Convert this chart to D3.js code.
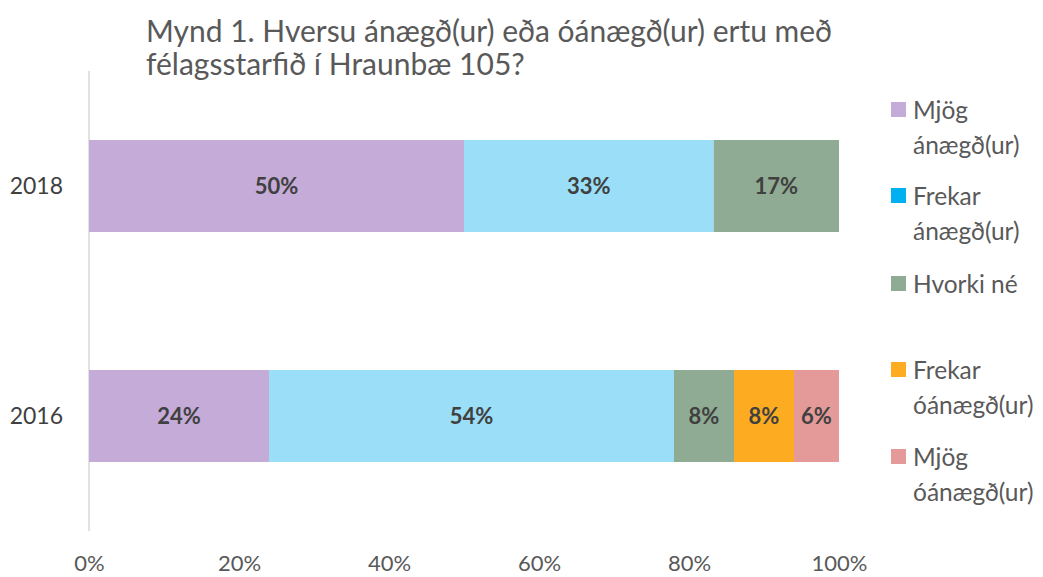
<!DOCTYPE html>
<html>
<head>
<meta charset="utf-8">
<script src="https://cdn.jsdelivr.net/npm/d3@7"></script>
<style>
  body { margin: 0; background: #fff; }
  svg { display: block; font-family: Lato, "Open Sans", sans-serif; }
</style>
</head>
<body>
<div id="chart"></div>
<script>
// chart data
var years = ["2018", "2016"];
var seriesNames = ["Mjög ánægð(ur)", "Frekar ánægð(ur)", "Hvorki né", "Frekar óánægð(ur)", "Mjög óánægð(ur)"];
var legendLines = [["Mjög", "ánægð(ur)"], ["Frekar", "ánægð(ur)"], ["Hvorki né"], ["Frekar", "óánægð(ur)"], ["Mjög", "óánægð(ur)"]];
var values2018 = [50, 33.3, 16.7, 0, 0];
var values2016 = [24, 54, 8, 8, 6];
var xTicks = [0, 20, 40, 60, 80, 100];
var titleLines = ["Mynd 1. Hversu ánægð(ur) eða óánægð(ur) ertu með", "félagsstarfið í Hraunbæ 105?"];

var barColors = ["#C5ABD8", "#9ADEF7", "#8FAB93", "#FDAB21", "#E59A9A"];
var legendColors = ["#C5ABD8", "#00B0F0", "#8FAB93", "#FDAB21", "#E59A9A"];

var W = 1043, H = 577;
var margin = {top: 71, left: 89, right: 204, bottom: 46};

var svg = d3.select("#chart").append("svg")
    .attr("width", W)
    .attr("height", H);

var x = d3.scaleLinear().domain([0, 100]).range([margin.left, 839]);
var y = d3.scaleBand().domain(years).range([margin.top, H - margin.bottom]).paddingInner(0.6).paddingOuter(0.3);

// stack the rows
var rows = [values2018, values2016].map(function(v, i) {
    var o = {year: years[i]};
    seriesNames.forEach(function(s, j) { o[s] = v[j]; });
    return o;
});
var stack = d3.stack().keys(seriesNames)(rows);

// title
svg.append("g").selectAll("text")
    .data(titleLines)
  .enter().append("text")
    .attr("x", 146)
    .attr("y", function(d, i) { return 42 + i * 33; })
    .attr("fill", "#595959")
    .style("font-size", "30px")
    .text(function(d) { return d; });

// vertical axis line
svg.append("line")
    .attr("x1", x(0)).attr("x2", x(0))
    .attr("y1", margin.top).attr("y2", H - margin.bottom)
    .attr("stroke", "#d9d9d9")
    .attr("stroke-width", 1.5);

// bars
var layer = svg.append("g").selectAll("g")
    .data(stack)
  .enter().append("g")
    .attr("fill", function(d, i) { return barColors[i]; });

layer.selectAll("rect")
    .data(function(d) { return d; })
  .enter().append("rect")
    .filter(function(d) { return d[1] - d[0] > 0; })
    .attr("x", function(d) { return x(d[0]); })
    .attr("width", function(d) { return x(d[1]) - x(d[0]); })
    .attr("y", function(d) { return y(d.data.year); })
    .attr("height", y.bandwidth());

// value labels
layer.selectAll("text")
    .data(function(d) { return d; })
  .enter().append("text")
    .filter(function(d) { return d[1] - d[0] > 0; })
    .attr("x", function(d) { return (x(d[0]) + x(d[1])) / 2; })
    .attr("y", function(d) { return y(d.data.year) + y.bandwidth() / 2; })
    .attr("dy", "0.35em")
    .attr("text-anchor", "middle")
    .attr("fill", "#404040")
    .style("font-size", "22px")
    .style("font-weight", "bold")
    .text(function(d) { return Math.round(d[1] - d[0]) + "%"; });

// y labels
svg.append("g").selectAll("text")
    .data(years)
  .enter().append("text")
    .attr("x", 63)
    .attr("y", function(d) { return y(d) + y.bandwidth() / 2; })
    .attr("dy", "0.35em")
    .attr("text-anchor", "end")
    .attr("fill", "#404040")
    .style("font-size", "23px")
    .text(function(d) { return d; });

// x axis labels
var xAxis = svg.append("g")
    .attr("transform", "translate(0," + (H - margin.bottom) + ")")
    .call(d3.axisBottom(x).tickValues(xTicks).tickSize(0).tickPadding(24)
        .tickFormat(function(d) { return d + "%"; }));
xAxis.select(".domain").remove();
xAxis.selectAll("text")
    .attr("fill", "#595959")
    .style("font-size", "22px")
    .style("font-family", "Lato, 'Open Sans', sans-serif");

// legend
var legendY = [110, 196, 284, 370, 457];
var lg = svg.append("g").selectAll("g")
    .data(seriesNames)
  .enter().append("g")
    .attr("transform", function(d, i) { return "translate(891," + legendY[i] + ")"; });

lg.append("rect")
    .attr("x", 0).attr("y", -8)
    .attr("width", 15).attr("height", 15)
    .attr("fill", function(d, i) { return legendColors[i]; });

lg.each(function(d, i) {
    d3.select(this).selectAll("text")
        .data(legendLines[i])
      .enter().append("text")
        .attr("x", 22)
        .attr("y", function(t, k) { return k * 35; })
        .attr("dy", "0.35em")
        .attr("fill", "#595959")
        .style("font-size", "24.5px")
        .text(function(t) { return t; });
});
</script>
</body>
</html>
